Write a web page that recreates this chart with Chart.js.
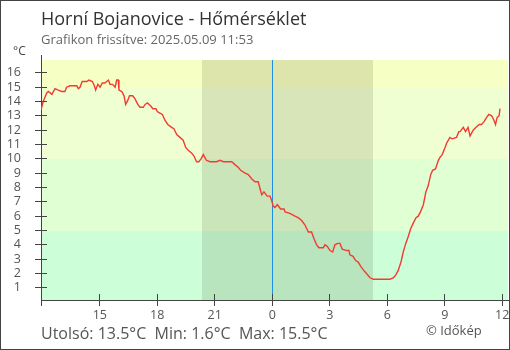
<!DOCTYPE html>
<html>
<head>
<meta charset="utf-8">
<script src="https://cdn.jsdelivr.net/npm/chart.js@4/dist/chart.umd.min.js"></script>
<style>
  html, body { margin: 0; padding: 0; background: #fff; }
  #wrap { width: 510px; height: 350px; position: relative; }
</style>
</head>
<body>
<div id="wrap"><canvas id="c" width="510" height="350"></canvas></div>
<script>
// Station and readings (local time, 10-minute-ish samples)
const station = 'Horní Bojanovice';
const times = [
  '2025-05-08 11:56','2025-05-08 12:03','2025-05-08 12:14','2025-05-08 12:19','2025-05-08 12:30',
  '2025-05-08 12:40','2025-05-08 12:50','2025-05-08 13:01','2025-05-08 13:11','2025-05-08 13:16',
  '2025-05-08 13:27','2025-05-08 13:48','2025-05-08 13:53','2025-05-08 13:58','2025-05-08 14:05',
  '2025-05-08 14:19','2025-05-08 14:26','2025-05-08 14:37','2025-05-08 14:43','2025-05-08 14:47',
  '2025-05-08 14:54','2025-05-08 15:01','2025-05-08 15:08','2025-05-08 15:16','2025-05-08 15:27',
  '2025-05-08 15:32','2025-05-08 15:40','2025-05-08 15:48','2025-05-08 15:53','2025-05-08 15:58',
  '2025-05-08 16:00','2025-05-08 16:09','2025-05-08 16:16','2025-05-08 16:21','2025-05-08 16:28',
  '2025-05-08 16:33','2025-05-08 16:43','2025-05-08 16:50','2025-05-08 16:59','2025-05-08 17:06',
  '2025-05-08 17:16','2025-05-08 17:22','2025-05-08 17:29','2025-05-08 17:39','2025-05-08 17:46',
  '2025-05-08 17:56','2025-05-08 18:00','2025-05-08 18:08','2025-05-08 18:16','2025-05-08 18:24',
  '2025-05-08 18:33','2025-05-08 18:45','2025-05-08 18:52','2025-05-08 19:01','2025-05-08 19:11',
  '2025-05-08 19:21','2025-05-08 19:29','2025-05-08 19:37','2025-05-08 19:48','2025-05-08 19:55',
  '2025-05-08 20:03','2025-05-08 20:10','2025-05-08 20:17','2025-05-08 20:24','2025-05-08 20:34',
  '2025-05-08 20:45','2025-05-08 21:06','2025-05-08 21:16','2025-05-08 21:27','2025-05-08 21:53',
  '2025-05-08 22:03','2025-05-08 22:14','2025-05-08 22:21','2025-05-08 22:35','2025-05-08 22:45',
  '2025-05-08 22:56','2025-05-08 23:06','2025-05-08 23:16','2025-05-08 23:22','2025-05-08 23:27',
  '2025-05-08 23:34','2025-05-08 23:44','2025-05-08 23:53','2025-05-08 23:58','2025-05-09 00:03',
  '2025-05-09 00:08','2025-05-09 00:16','2025-05-09 00:26','2025-05-09 00:37','2025-05-09 00:40',
  '2025-05-09 00:55','2025-05-09 01:11','2025-05-09 01:21','2025-05-09 01:32','2025-05-09 01:42',
  '2025-05-09 01:53','2025-05-09 02:03','2025-05-09 02:11','2025-05-09 02:19','2025-05-09 02:26',
  '2025-05-09 02:40','2025-05-09 02:45','2025-05-09 02:52','2025-05-09 03:01','2025-05-09 03:09',
  '2025-05-09 03:16','2025-05-09 03:25','2025-05-09 03:32','2025-05-09 03:39','2025-05-09 03:53',
  '2025-05-09 04:00','2025-05-09 04:03','2025-05-09 04:13','2025-05-09 04:21','2025-05-09 04:29',
  '2025-05-09 04:37','2025-05-09 04:47','2025-05-09 04:55','2025-05-09 05:06','2025-05-09 05:16',
  '2025-05-09 06:08','2025-05-09 06:19','2025-05-09 06:27','2025-05-09 06:34','2025-05-09 06:43',
  '2025-05-09 06:50','2025-05-09 06:58','2025-05-09 07:06','2025-05-09 07:13','2025-05-09 07:21',
  '2025-05-09 07:30','2025-05-09 07:37','2025-05-09 07:44','2025-05-09 07:53','2025-05-09 08:01',
  '2025-05-09 08:08','2025-05-09 08:16','2025-05-09 08:22','2025-05-09 08:31','2025-05-09 08:40',
  '2025-05-09 08:45','2025-05-09 08:52','2025-05-09 09:01','2025-05-09 09:06','2025-05-09 09:16',
  '2025-05-09 09:23','2025-05-09 09:37','2025-05-09 09:44','2025-05-09 09:48','2025-05-09 09:58',
  '2025-05-09 10:05','2025-05-09 10:13','2025-05-09 10:19','2025-05-09 10:24','2025-05-09 10:29',
  '2025-05-09 10:38','2025-05-09 10:48','2025-05-09 10:55','2025-05-09 11:03','2025-05-09 11:11',
  '2025-05-09 11:18','2025-05-09 11:27','2025-05-09 11:34','2025-05-09 11:39','2025-05-09 11:44',
  '2025-05-09 11:50','2025-05-09 11:53'
];
const temps = [
  13.4,14.0,14.6,14.7,14.5, 14.9,14.8,14.7,14.7,15.0, 15.1,15.1,14.9,15.0,15.4,
  15.4,15.5,15.4,15.1,14.8, 15.2,15.0,15.3,15.3,15.5, 15.2,15.2,15.0,15.5,15.5,
  14.8,14.7,14.4,13.8,14.1, 14.4,14.4,14.2,13.8,13.6, 13.6,13.8,13.9,13.7,13.5,
  13.5,13.3,13.2,13.1,12.7, 12.4,12.2,12.1,11.7,11.5, 11.3,10.8,10.6,10.4,10.2,
  9.8,9.8,10.0,10.3,9.9, 9.8,9.8,9.9,9.8,9.8, 9.6,9.4,9.2,9.0,8.9,
  8.6,8.4,8.4,7.9,7.5, 7.7,7.4,7.4,7.1,6.7, 6.6,6.8,6.5,6.5,6.3,
  6.2,6.0,5.9,5.7,5.4, 4.9,4.9,4.4,4.0,3.8, 3.8,4.0,3.9,3.6,3.5,
  4.0,4.1,4.1,3.7,3.6, 3.6,3.3,3.2,2.9,2.8, 2.5,2.2,2.0,1.7,1.6,
  1.6,1.7,1.9,2.2,2.8, 3.5,4.1,4.6,5.1,5.5, 5.9,6.0,6.3,6.8,7.7,
  8.1,8.9,9.2,9.3,9.9, 10.1,10.3,10.8,11.1,11.5, 11.4,11.5,11.9,11.9,12.2,
  11.9,12.2,11.6,11.8,12.0, 12.2,12.4,12.4,12.6,12.9, 13.1,13.0,12.7,12.4,12.9,
  13.0,13.5
];

// Axis ticks
const xTickTimes  = ['2025-05-08 15:00','2025-05-08 18:00','2025-05-08 21:00','2025-05-09 00:00',
                     '2025-05-09 03:00','2025-05-09 06:00','2025-05-09 09:00','2025-05-09 12:00'];
const xTickLabels = ['15','18','21','0','3','6','9','12'];
const yTicks      = [1,2,3,4,5,6,7,8,9,10,11,12,13,14,15,16];

// Temperature bands (from, to, colour) and the night between sunset and sunrise
const bandEdges   = [0, 5, 10, 15, 20];
const bandColors  = ['#ccffd8', '#e0ffd3', '#f0ffd2', '#f6ffc4'];
const sunset      = '2025-05-08 20:21';
const sunrise     = '2025-05-09 05:15';
const midnight    = '2025-05-09 00:00';
const axisStart   = '2025-05-08 11:56';
const axisEnd     = '2025-05-09 12:18';

const FONT = '"Open Sans", "Noto Sans", sans-serif';

// hours relative to midnight of the 9th
function toHours(s) {
  const [d, t] = s.split(' ');
  const day = +d.slice(8, 10);
  const [hh, mm] = t.split(':').map(Number);
  return (day - 9) * 24 + hh + mm / 60;
}
const points = times.map((t, i) => ({ x: toHours(t), y: temps[i] }));
const fmt = v => v.toFixed(1) + '°C';
const last = temps[temps.length - 1];
const tMin = Math.min(...temps);
const tMax = Math.max(...temps);
const updated = times[times.length - 1].replace(/-/g, '.');

const ap = (v) => Math.round(v - 0.5) + 0.5;

const decor = {
  id: 'decor',
  beforeDraw(chart) {
    const { ctx, chartArea: a, scales: { x, y } } = chart;
    ctx.save();
    ctx.fillStyle = '#fff';
    ctx.fillRect(0, 0, chart.width, chart.height);
    ctx.beginPath();
    ctx.rect(a.left, a.top, a.right - a.left, a.bottom - a.top);
    ctx.clip();
    for (let i = 0; i < bandColors.length; i++) {
      const y0 = y.getPixelForValue(bandEdges[i]);
      const y1 = y.getPixelForValue(bandEdges[i + 1]);
      ctx.fillStyle = bandColors[i];
      ctx.fillRect(a.left, Math.round(y1), a.right - a.left, Math.round(y0) - Math.round(y1));
    }
    const n0 = Math.round(x.getPixelForValue(toHours(sunset)));
    const n1 = Math.round(x.getPixelForValue(toHours(sunrise)));
    ctx.fillStyle = 'rgba(40,40,0,0.12)';
    ctx.fillRect(n0, a.top, n1 - n0, a.bottom - a.top);
    const mx = ap(x.getPixelForValue(toHours(midnight)));
    ctx.strokeStyle = '#1e8fe6';
    ctx.lineWidth = 1;
    ctx.beginPath();
    ctx.moveTo(mx, a.top);
    ctx.lineTo(mx, a.bottom);
    ctx.stroke();
    ctx.restore();
  },
  afterDraw(chart) {
    const { ctx, chartArea: a, scales: { x, y } } = chart;
    ctx.save();
    ctx.strokeStyle = '#444';
    ctx.lineWidth = 1;
    ctx.beginPath();
    // tick marks reaching into the plot
    y.ticks.forEach(t => {
      const py = ap(y.getPixelForValue(t.value));
      ctx.moveTo(a.left, py); ctx.lineTo(a.left + 6, py);
    });
    x.ticks.forEach(t => {
      const px = ap(x.getPixelForValue(t.value));
      ctx.moveTo(px, a.bottom); ctx.lineTo(px, a.bottom - 6);
    });
    // y axis line runs a little past the plot on both ends
    const ax = ap(a.left);
    ctx.moveTo(ax, a.top - 5); ctx.lineTo(ax, a.top);
    ctx.moveTo(ax, a.bottom); ctx.lineTo(ax, a.bottom + 6);
    ctx.stroke();

    // texts
    ctx.textAlign = 'left';
    ctx.textBaseline = 'alphabetic';
    ctx.fillStyle = '#333';
    ctx.font = '18px ' + FONT;
    ctx.fillText(station + ' - Hőmérséklet', 41, 25);
    ctx.fillStyle = '#666';
    ctx.font = '13px ' + FONT;
    ctx.fillText('Grafikon frissítve: ' + updated, 41, 44);
    ctx.fillStyle = '#444';
    ctx.font = '12px ' + FONT;
    ctx.fillText('°C', 13, 55);
    ctx.fillStyle = '#555';
    ctx.font = '16px ' + FONT;
    ctx.fillText('Utolsó: ' + fmt(last) + '  Min: ' + fmt(tMin) + '  Max: ' + fmt(tMax), 41, 339);
    ctx.font = '13px ' + FONT;
    ctx.fillText('© Időkép', 426, 335);

    // outer frame
    ctx.strokeStyle = '#444';
    ctx.strokeRect(0.5, 0.5, chart.width - 1, chart.height - 1);
    ctx.restore();
  }
};

new Chart(document.getElementById('c'), {
  type: 'line',
  data: {
    datasets: [{
      data: points,
      borderColor: '#f03c32',
      borderWidth: 1.4,
      pointRadius: 0,
      tension: 0,
      fill: false
    }]
  },
  options: {
    responsive: false,
    animation: false,
    events: [],
    layout: { padding: { top: 60, right: 2, bottom: 20, left: 0 } },
    plugins: { legend: { display: false }, tooltip: { enabled: false }, title: { display: false } },
    scales: {
      x: {
        type: 'linear',
        position: 'bottom',
        min: toHours(axisStart),
        max: toHours(axisEnd),
        afterBuildTicks: s => { s.ticks = xTickTimes.map(t => ({ value: toHours(t) })); },
        afterFit: s => { s.height = 30; s.paddingLeft = 0; s.paddingRight = 0; },
        ticks: {
          autoSkip: false, maxRotation: 0, padding: 2, color: '#555',
          font: { family: FONT, size: 12.5 },
          callback: (v, i) => xTickLabels[i]
        },
        grid: { drawOnChartArea: false, drawTicks: true, tickLength: 6, color: '#444', lineWidth: 1 },
        border: { display: true, color: '#444', width: 1 }
      },
      y: {
        type: 'linear',
        min: 0.15,
        max: 16.9,
        afterBuildTicks: s => { s.ticks = yTicks.map(v => ({ value: v })); },
        afterFit: s => { s.width = 41; s.paddingTop = 0; s.paddingBottom = 0; },
        ticks: {
          autoSkip: false, padding: 14, color: '#555',
          font: { family: FONT, size: 12.5 },
          callback: v => String(v)
        },
        grid: { drawOnChartArea: false, drawTicks: true, tickLength: 6, color: '#444', lineWidth: 1 },
        border: { display: true, color: '#444', width: 1 }
      }
    }
  },
  plugins: [decor]
});
</script>
</body>
</html>
